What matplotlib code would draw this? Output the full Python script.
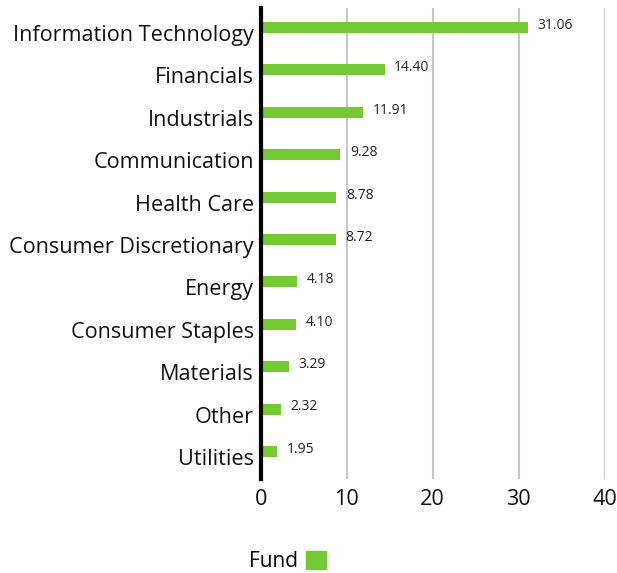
import matplotlib
matplotlib.use('Agg')
import matplotlib.pyplot as plt
from matplotlib.patches import Patch

# Sector weights (%), top to bottom as shown
sectors = ['Information Technology', 'Financials', 'Industrials', 'Communication',
           'Health Care', 'Consumer Discretionary', 'Energy', 'Consumer Staples',
           'Materials', 'Other', 'Utilities']
fund = [31.06, 14.40, 11.91, 9.28, 8.78, 8.72, 4.18, 4.10, 3.29, 2.32, 1.95]
x_ticks = [0, 10, 20, 30, 40]

green = '#74c934'
plt.rcParams['font.family'] = ['Open Sans', 'DejaVu Sans']

fig = plt.figure(figsize=(6.17, 5.73), dpi=100)
ax = fig.add_axes([0.4225, 0.164, 0.5575, 0.822])

n = len(sectors)
ypos = [n - 1 - i for i in range(n)]
ax.barh(ypos, fund, height=0.26, color=green, zorder=3)

# value labels right of each bar
for y, v in zip(ypos, fund):
    ax.annotate('%.2f' % v, xy=(v, y), xytext=(7, 1.5), textcoords='offset points',
                ha='left', va='center', fontsize=10, color='#222222')

ax.set_xlim(0, 40)
ax.set_ylim(-0.65, n - 1 + 0.46)
ax.set_xticks(x_ticks)
ax.set_yticks([y - 0.13 for y in ypos])
ax.set_yticklabels(sectors)
ax.tick_params(axis='y', length=0, pad=5, labelsize=15.6, colors='#111111')
ax.tick_params(axis='x', length=0, pad=7, labelsize=15.6, colors='#111111')

for s in ['top', 'right', 'bottom']:
    ax.spines[s].set_visible(False)
ax.spines['left'].set_linewidth(3)
ax.spines['left'].set_color('black')
ax.spines['left'].set_zorder(5)

ax.xaxis.grid(True, color='#c8c8c8', linewidth=1.5, zorder=0)
ax.yaxis.grid(False)
ax.set_axisbelow(True)

handle = Patch(color=green, label='Fund')
fig.legend(handles=[handle], loc='center', bbox_to_anchor=(0.466, 0.0195),
           frameon=False, markerfirst=False, fontsize=15,
           handlelength=0.95, handleheight=0.95, handletextpad=0.4)

fig.savefig('out.png', dpi=100)
